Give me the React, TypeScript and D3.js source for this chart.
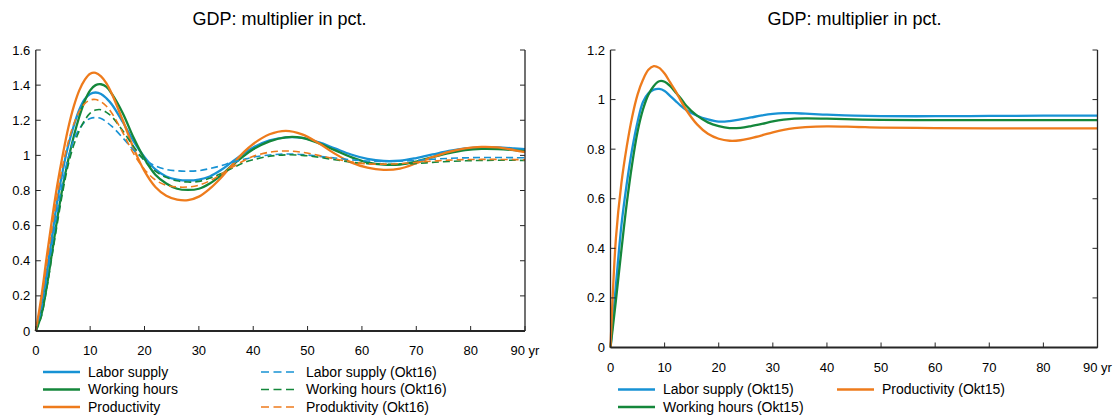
import * as d3 from "d3";

// ---- data ----
const leftYears = [0, 1, 2, 3, 4, 5, 6, 7, 8, 9, 10, 11, 12, 13, 14, 16, 18, 20, 22, 24, 26, 28, 30, 32, 34, 36, 38, 40, 43, 46, 49, 52, 55, 58, 61, 64, 67, 70, 73, 76, 79, 82, 85, 88, 90];

const laborSupply = [0, 0.13, 0.33, 0.54, 0.75, 0.92, 1.06, 1.17, 1.26, 1.32, 1.35, 1.358, 1.35, 1.325, 1.29, 1.19, 1.08, 0.99, 0.92, 0.88, 0.862, 0.857, 0.862, 0.88, 0.915, 0.96, 1.005, 1.045, 1.085, 1.103, 1.1, 1.075, 1.04, 1.005, 0.98, 0.968, 0.97, 0.985, 1.005, 1.025, 1.04, 1.046, 1.046, 1.04, 1.035];
const workingHours = [0, 0.09, 0.25, 0.45, 0.65, 0.83, 0.98, 1.11, 1.22, 1.31, 1.37, 1.4, 1.405, 1.39, 1.35, 1.24, 1.1, 0.98, 0.89, 0.84, 0.81, 0.803, 0.81, 0.84, 0.885, 0.94, 0.99, 1.035, 1.08, 1.103, 1.1, 1.07, 1.03, 0.99, 0.96, 0.947, 0.948, 0.965, 0.99, 1.013, 1.03, 1.037, 1.036, 1.03, 1.024];
const productivity = [0, 0.19, 0.42, 0.64, 0.84, 1.01, 1.16, 1.28, 1.37, 1.43, 1.465, 1.47, 1.45, 1.41, 1.35, 1.2, 1.04, 0.91, 0.82, 0.77, 0.748, 0.745, 0.765, 0.81, 0.87, 0.94, 1.01, 1.065, 1.12, 1.14, 1.12, 1.07, 1.01, 0.96, 0.93, 0.918, 0.925, 0.955, 0.99, 1.02, 1.04, 1.048, 1.045, 1.03, 1.018];
const laborSupplyOkt16 = [0, 0.11, 0.29, 0.49, 0.69, 0.86, 0.99, 1.09, 1.15, 1.19, 1.21, 1.215, 1.21, 1.19, 1.165, 1.1, 1.03, 0.975, 0.94, 0.92, 0.912, 0.91, 0.913, 0.925, 0.94, 0.96, 0.975, 0.99, 1.002, 1.008, 1.005, 0.995, 0.985, 0.975, 0.968, 0.965, 0.967, 0.972, 0.978, 0.983, 0.986, 0.988, 0.988, 0.987, 0.986];
const workingHoursOkt16 = [0, 0.08, 0.24, 0.43, 0.62, 0.8, 0.95, 1.06, 1.14, 1.2, 1.24, 1.258, 1.26, 1.245, 1.22, 1.14, 1.05, 0.97, 0.91, 0.875, 0.855, 0.848, 0.852, 0.87, 0.895, 0.925, 0.955, 0.975, 0.995, 1.003, 1.0, 0.99, 0.975, 0.962, 0.953, 0.95, 0.95, 0.954, 0.96, 0.965, 0.969, 0.971, 0.972, 0.972, 0.971];
const produktivityOkt16 = [0, 0.17, 0.38, 0.59, 0.78, 0.95, 1.08, 1.18, 1.25, 1.295, 1.315, 1.318, 1.305, 1.28, 1.24, 1.13, 1.01, 0.92, 0.86, 0.83, 0.82, 0.82, 0.83, 0.855, 0.89, 0.93, 0.965, 0.995, 1.018, 1.025, 1.018, 1.0, 0.98, 0.963, 0.952, 0.95, 0.953, 0.96, 0.967, 0.973, 0.976, 0.977, 0.977, 0.976, 0.975];

const rightYears = [0, 1, 2, 3, 4, 5, 6, 7, 8, 9, 10, 11, 12, 13, 14, 16, 18, 20, 22, 24, 26, 28, 30, 32, 34, 36, 40, 45, 50, 60, 70, 80, 90];

const laborSupplyOkt15 = [0, 0.25, 0.49, 0.66, 0.8, 0.91, 0.99, 1.025, 1.04, 1.043, 1.035, 1.015, 0.995, 0.975, 0.958, 0.935, 0.92, 0.911, 0.913, 0.92, 0.928, 0.936, 0.942, 0.945, 0.945, 0.943, 0.939, 0.935, 0.933, 0.933, 0.934, 0.935, 0.935];
const workingHoursOkt15 = [0, 0.19, 0.39, 0.58, 0.74, 0.87, 0.96, 1.02, 1.055, 1.074, 1.072, 1.055, 1.03, 1.005, 0.975, 0.935, 0.908, 0.893, 0.885, 0.886, 0.893, 0.902, 0.912, 0.919, 0.923, 0.924, 0.923, 0.92, 0.918, 0.917, 0.917, 0.917, 0.917];
const productivityOkt15 = [0, 0.44, 0.66, 0.81, 0.93, 1.02, 1.08, 1.12, 1.135, 1.128, 1.105, 1.07, 1.035, 0.995, 0.958, 0.9, 0.862, 0.842, 0.834, 0.836, 0.845, 0.856, 0.868, 0.878, 0.885, 0.889, 0.892, 0.89, 0.887, 0.885, 0.884, 0.884, 0.884];

const xTicks = [0, 10, 20, 30, 40, 50, 60, 70, 80, 90];
const leftYTicks = [0, 0.2, 0.4, 0.6, 0.8, 1, 1.2, 1.4, 1.6];
const rightYTicks = [0, 0.2, 0.4, 0.6, 0.8, 1, 1.2];
const chartTitle = "GDP: multiplier in pct.";

const BLUE = "#1792d4";
const GREEN = "#14873b";
const ORANGE = "#ee7b1c";
const AXIS = "#262626";
const FONT = "'Liberation Sans', Arial, sans-serif";

type Series = { name: string; years: number[]; values: number[]; color: string; dashed?: boolean };
type LegendItem = { series: Series; x: number; y: number };

const leftSeries: Series[] = [
  { name: "Labor supply", years: leftYears, values: laborSupply, color: BLUE },
  { name: "Working hours", years: leftYears, values: workingHours, color: GREEN },
  { name: "Productivity", years: leftYears, values: productivity, color: ORANGE },
  { name: "Labor supply (Okt16)", years: leftYears, values: laborSupplyOkt16, color: BLUE, dashed: true },
  { name: "Working hours (Okt16)", years: leftYears, values: workingHoursOkt16, color: GREEN, dashed: true },
  { name: "Produktivity (Okt16)", years: leftYears, values: produktivityOkt16, color: ORANGE, dashed: true },
];

const rightSeries: Series[] = [
  { name: "Labor supply (Okt15)", years: rightYears, values: laborSupplyOkt15, color: BLUE },
  { name: "Working hours (Okt15)", years: rightYears, values: workingHoursOkt15, color: GREEN },
  { name: "Productivity (Okt15)", years: rightYears, values: productivityOkt15, color: ORANGE },
];

const Panel = ({
  left,
  right,
  top,
  bottom,
  yMax,
  yTicks,
  series,
  titleX,
  legend,
}: {
  left: number;
  right: number;
  top: number;
  bottom: number;
  yMax: number;
  yTicks: number[];
  series: Series[];
  titleX: number;
  legend: LegendItem[];
}) => {
  const x = d3.scaleLinear().domain([0, 90]).range([left, right]);
  const y = d3.scaleLinear().domain([0, yMax]).range([bottom, top]);
  const line = d3
    .line<[number, number]>()
    .x((d) => x(d[0]))
    .y((d) => y(d[1]))
    .curve(d3.curveCatmullRom.alpha(0.5));
  const tick = 5;

  return (
    <g>
      <text x={titleX} y={25} textAnchor="middle" fontSize={18} fill="#000">
        {chartTitle}
      </text>

      {series.map((s) => (
        <path
          key={s.name}
          d={line(s.years.map((yr, i) => [yr, s.values[i]]) as [number, number][]) || ""}
          fill="none"
          stroke={s.color}
          strokeWidth={s.dashed ? 1.6 : 2.3}
          strokeDasharray={s.dashed ? "7,4" : undefined}
        />
      ))}

      {/* axes: left, right, bottom (no top line) */}
      <line x1={left} x2={left} y1={top} y2={bottom} stroke={AXIS} strokeWidth={1.3} />
      <line x1={right} x2={right} y1={top} y2={bottom} stroke={AXIS} strokeWidth={1.3} />
      <line x1={left} x2={right} y1={bottom} y2={bottom} stroke={AXIS} strokeWidth={1.8} />

      {yTicks.map((t) => (
        <g key={"y" + t}>
          <line x1={left} x2={left + tick} y1={y(t)} y2={y(t)} stroke={AXIS} strokeWidth={1} />
          <line x1={right} x2={right - tick} y1={y(t)} y2={y(t)} stroke={AXIS} strokeWidth={1} />
          <text x={left - 5.5} y={y(t) + 4.5} textAnchor="end" fontSize={13} fill="#000">
            {String(+t.toFixed(1))}
          </text>
        </g>
      ))}

      {xTicks.map((t) => (
        <g key={"x" + t}>
          <line x1={x(t)} x2={x(t)} y1={bottom} y2={bottom - tick} stroke={AXIS} strokeWidth={1} />
          <text x={x(t)} y={bottom + 24} textAnchor="middle" fontSize={13} fill="#000">
            {t === 90 ? "90 yr" : String(t)}
          </text>
        </g>
      ))}

      {legend.map((l) => (
        <g key={"lg" + l.series.name}>
          <line
            x1={l.x}
            x2={l.x + 37}
            y1={l.y}
            y2={l.y}
            stroke={l.series.color}
            strokeWidth={l.series.dashed ? 1.6 : 2.3}
            strokeDasharray={l.series.dashed ? "8,4.5" : undefined}
          />
          <text x={l.x + 45} y={l.y + 4.5} fontSize={14} fill="#000">
            {l.series.name}
          </text>
        </g>
      ))}
    </g>
  );
};

export default function App() {
  const rowY = [372, 389.5, 407];
  const leftLegend: LegendItem[] = leftSeries.map((s, i) => ({
    series: s,
    x: i < 3 ? 43 : 261,
    y: rowY[i % 3],
  }));
  const rightLegend: LegendItem[] = [
    { series: rightSeries[0], x: 618, y: rowY[1] },
    { series: rightSeries[1], x: 618, y: rowY[2] },
    { series: rightSeries[2], x: 837, y: rowY[1] },
  ];

  return (
    <>
      <style>{`body{margin:0}`}</style>
      <svg width={1116} height={416} style={{ display: "block", fontFamily: FONT, background: "#fff" }}>
        <Panel
          left={35.8}
          right={525}
          top={50}
          bottom={331}
          yMax={1.6}
          yTicks={leftYTicks}
          series={leftSeries}
          titleX={279.5}
          legend={leftLegend}
        />
        <Panel
          left={610.5}
          right={1097.5}
          top={50}
          bottom={347.5}
          yMax={1.2}
          yTicks={rightYTicks}
          series={rightSeries}
          titleX={854.5}
          legend={rightLegend}
        />
      </svg>
    </>
  );
}
